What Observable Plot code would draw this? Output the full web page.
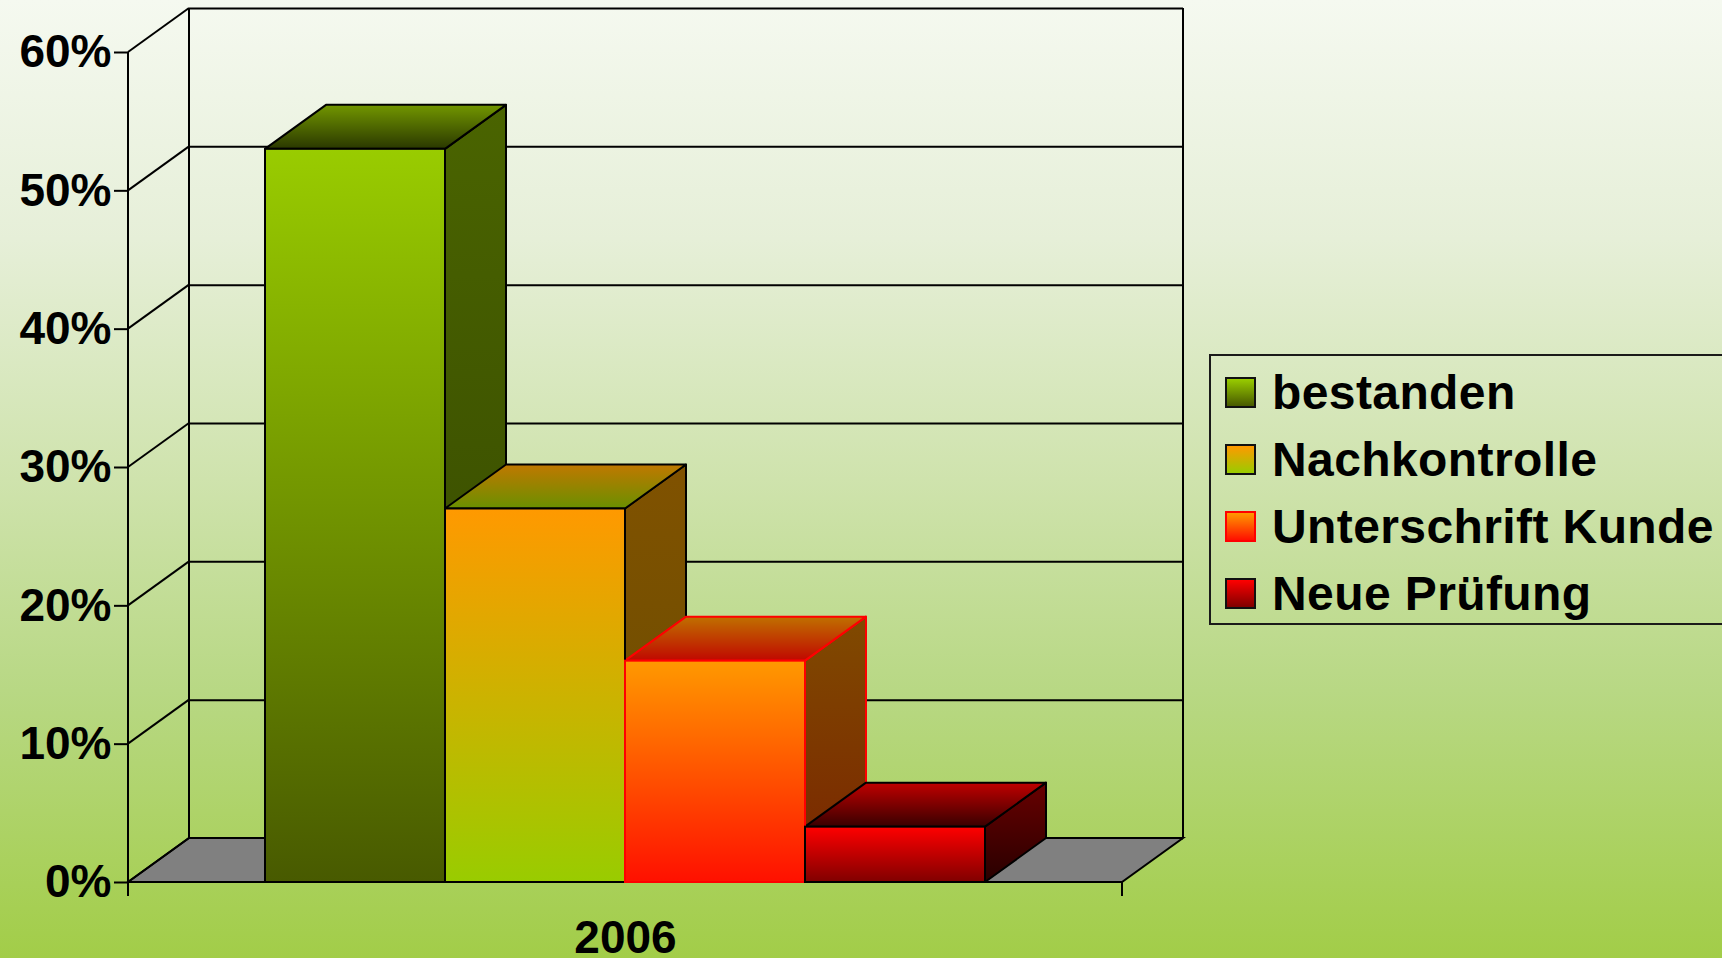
<!DOCTYPE html>
<html>
<head>
<meta charset="utf-8">
<script src="https://cdn.jsdelivr.net/npm/d3@7"></script>
<script src="https://cdn.jsdelivr.net/npm/@observablehq/plot@0.6"></script>
<style>
html, body { margin: 0; padding: 0; }
body {
  width: 1722px; height: 958px; overflow: hidden; position: relative;
  background: linear-gradient(to bottom, #f5f9f0 0%, #e6efd8 25%, #cfe3ad 50%, #b8d884 72%, #a2cd48 100%);
  font-family: "Liberation Sans", Arial, sans-serif; color: #000;
}
#chart { position: absolute; left: 0; top: 0; }
#legend {
  position: absolute; left: 1209px; top: 354px; width: 560px; height: 271px;
  border: 2px solid #1a1a1a; box-sizing: border-box;
}
.row { position: absolute; left: 0; height: 31px; line-height: 31px; white-space: nowrap; }
.sw { position: absolute; left: 14px; top: 0; width: 31px; height: 31px; box-sizing: border-box; border: 2px solid #111; }
.lab { position: absolute; left: 61px; top: 0; font-size: 48px; font-weight: bold; letter-spacing: 0.4px; }
</style>
</head>
<body>
<div id="chart"></div>
<div id="legend"></div>
<script>
// ---- data ----
const categories = ["2006"];
const series = ["bestanden", "Nachkontrolle", "Unterschrift Kunde", "Neue Prüfung"];
const values2006 = [53, 27, 16, 4];
const yTicks = [0, 10, 20, 30, 40, 50, 60];
const yTickLabels = ["0%", "10%", "20%", "30%", "40%", "50%", "60%"];

// ---- styles ----
const frontColors = [["#99cc00", "#485a00"], ["#ff9900", "#99cc00"], ["#ff9900", "#ff1000"], ["#ff0000", "#800000"]];
const sideColors  = [["#4a6400", "#334400"], ["#805200", "#684c00"], ["#804a00", "#7a2400"], ["#680000", "#280000"]];
const topColors   = [["#729600", "#2a3800"], ["#c07800", "#6a9000"], ["#c07000", "#c00800"], ["#c00000", "#380000"]];
const edgeColors  = ["#000000", "#000000", "#ff0000", "#000000"];
const DX = 61, DY = -44; // 3D depth offset

const data = series.map((s, i) => ({category: categories[0], series: s, value: values2006[i], idx: i}));

function defsMark() {
  const defs = d3.create("svg:defs");
  const add = (id, [c1, c2]) => {
    const g = defs.append("linearGradient").attr("id", id)
      .attr("x1", 0).attr("y1", 0).attr("x2", 0).attr("y2", 1);
    g.append("stop").attr("offset", 0).attr("stop-color", c1);
    g.append("stop").attr("offset", 1).attr("stop-color", c2);
  };
  series.forEach((s, i) => { add(`gf${i}`, frontColors[i]); add(`gs${i}`, sideColors[i]); add(`gt${i}`, topColors[i]); });
  return defs.node();
}

function boxMark(index, scales, values, dims) {
  const L = dims.marginLeft, R = dims.width - dims.marginRight;
  const y = scales.y, y0 = y(yTicks[0]), yT = y(yTicks[yTicks.length - 1]);
  const g = d3.create("svg:g").attr("stroke", "#000").attr("stroke-width", 2).attr("fill", "none");
  g.append("path").attr("fill", "#808080")
    .attr("d", `M${L},${y0}L${L + DX},${y0 + DY}L${R + DX},${y0 + DY}L${R},${y0}Z`);
  for (const t of yTicks) {
    g.append("line").attr("x1", L).attr("y1", y(t)).attr("x2", L + DX).attr("y2", y(t) + DY);
  }
  g.append("line").attr("x1", L + DX).attr("y1", yT + DY).attr("x2", L + DX).attr("y2", y0 + DY);
  g.append("line").attr("x1", R + DX).attr("y1", yT + DY).attr("x2", R + DX).attr("y2", y0 + DY);
  g.append("line").attr("x1", L).attr("y1", yT).attr("x2", L).attr("y2", y0 + 14);
  g.append("line").attr("x1", L).attr("y1", y0).attr("x2", R).attr("y2", y0);
  g.append("line").attr("x1", R).attr("y1", y0).attr("x2", R).attr("y2", y0 + 14);
  return g.node();
}

function sideMark(index, scales) {
  const {x, y} = scales, bw = x.bandwidth(), yb = y(0);
  const g = d3.create("svg:g").attr("stroke-width", 2).attr("stroke-linejoin", "round");
  data.forEach((d, i) => {
    const x1 = x(d.series) + bw, yv = y(d.value);
    g.append("path").attr("fill", `url(#gs${i})`).attr("stroke", edgeColors[i])
      .attr("d", `M${x1},${yv}L${x1 + DX},${yv + DY}L${x1 + DX},${yb + DY}L${x1},${yb}Z`);
  });
  return g.node();
}

function topMark(index, scales) {
  const {x, y} = scales, bw = x.bandwidth();
  const g = d3.create("svg:g").attr("stroke-width", 2).attr("stroke-linejoin", "round");
  data.forEach((d, i) => {
    const x0 = x(d.series), x1 = x0 + bw, yv = y(d.value);
    g.append("path").attr("fill", `url(#gt${i})`).attr("stroke", edgeColors[i])
      .attr("d", `M${x0},${yv}L${x0 + DX},${yv + DY}L${x1 + DX},${yv + DY}L${x1},${yv}Z`);
  });
  return g.node();
}

const chart = Plot.plot({
  width: 1722,
  height: 958,
  marginLeft: 128,
  marginRight: 600,
  marginTop: 52,
  marginBottom: 76,
  style: {background: "transparent", fontFamily: "'Liberation Sans', Arial, sans-serif", fontWeight: "bold", color: "#000", overflow: "visible"},
  x: {type: "band", domain: series, paddingInner: 0, paddingOuter: 0.76, axis: null},
  y: {domain: [0, 60], axis: null},
  color: {type: "identity"},
  marks: [
    defsMark,
    Plot.ruleY(yTicks, {dx: DX, dy: DY, stroke: "#000", strokeWidth: 2}),
    boxMark,
    sideMark,
    topMark,
    Plot.barY(data, {x: "series", y: "value", fill: d => `url(#gf${d.idx})`, stroke: d => edgeColors[d.idx], strokeWidth: 2}),
    Plot.axisY(yTicks, {anchor: "left", label: null, tickFormat: d => yTickLabels[yTicks.indexOf(d)], tickSize: 14, tickPadding: 3, fontSize: 46, strokeWidth: 2}),
    Plot.text(categories, {text: d => d, frameAnchor: "bottom", dy: 70, fontSize: 46})
  ]
});
document.getElementById("chart").appendChild(chart);

// legend
const legend = document.getElementById("legend");
series.forEach((s, i) => {
  const row = document.createElement("div");
  row.className = "row";
  row.style.top = (21 + 67 * i) + "px";
  const sw = document.createElement("div");
  sw.className = "sw";
  sw.style.background = `linear-gradient(to bottom, ${frontColors[i][0]}, ${frontColors[i][1]})`;
  sw.style.borderColor = edgeColors[i] === "#000000" ? "#111" : edgeColors[i];
  const lab = document.createElement("span");
  lab.className = "lab";
  lab.textContent = s;
  row.appendChild(sw); row.appendChild(lab);
  legend.appendChild(row);
});
</script>
</body>
</html>
